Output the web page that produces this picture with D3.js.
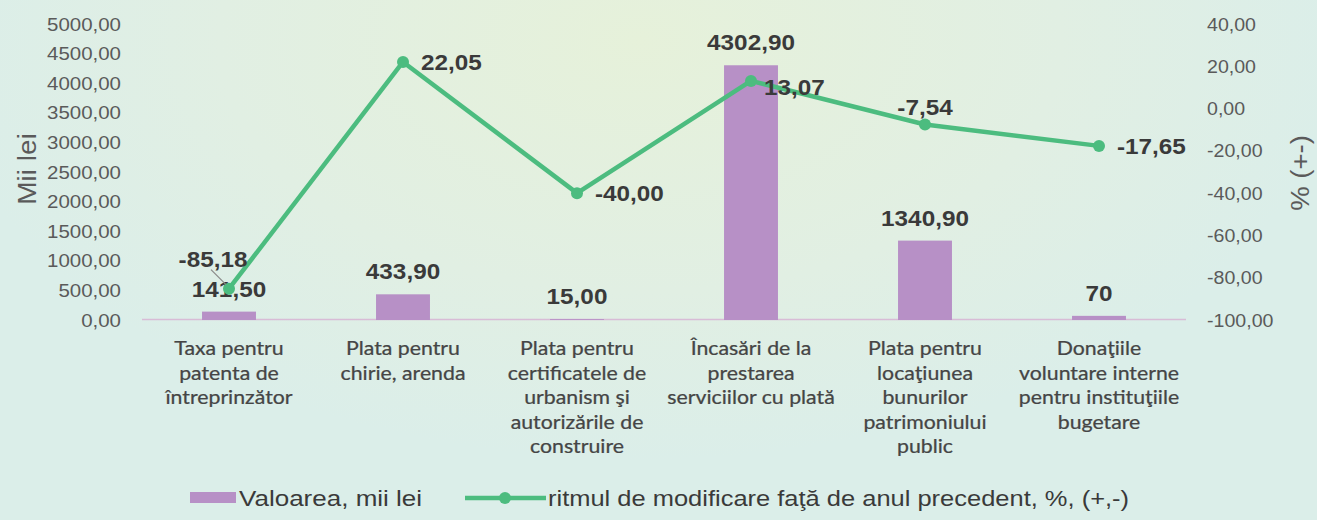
<!DOCTYPE html>
<html><head><meta charset="utf-8">
<script src="https://cdn.jsdelivr.net/npm/d3@7"></script>
<style>html,body{margin:0;padding:0;overflow:hidden;}svg{display:block;}</style>
</head><body>
<svg id="chart" width="1317" height="520"></svg>
<script>
const categories = [
  ["Taxa pentru","patenta de","întreprinzător"],
  ["Plata pentru","chirie, arenda"],
  ["Plata pentru","certificatele de","urbanism şi","autorizările de","construire"],
  ["Încasări de la","prestarea","serviciilor cu plată"],
  ["Plata pentru","locaţiunea","bunurilor","patrimoniului","public"],
  ["Donaţiile","voluntare interne","pentru instituţiile","bugetare"]
];
const values = [141.50, 433.90, 15.00, 4302.90, 1340.90, 70];
const valueLabels = ["141,50","433,90","15,00","4302,90","1340,90","70"];
const rates = [-85.18, 22.05, -40.00, 13.07, -7.54, -17.65];
const rateLabels = ["-85,18","22,05","-40,00","13,07","-7,54","-17,65"];
const leftTicks = [0,500,1000,1500,2000,2500,3000,3500,4000,4500,5000];
const rightTicks = [-100,-80,-60,-40,-20,0,20,40];
const legendNames = ["Valoarea, mii lei","ritmul de modificare faţă de anul precedent, %, (+,-)"];
const leftTitle = "Mii lei";
const rightTitle = "% (+-)";
// label placement keywords for the line labels
const ratePlacement = ["aboveLeft","right","right","rightBelow","above","right"];

const svg = d3.select("#chart");
const W = 1317, H = 520;
const barColor = "#b790c6", lineColor = "#4cbc7f", textDark = "#3a3a3a", tickColor = "#5a5a5a";
const SX = 1.13;

// background
const defs = svg.append("defs");
const rg = defs.append("radialGradient").attr("id","bg").attr("gradientUnits","userSpaceOnUse")
  .attr("cx",640).attr("cy",40).attr("r",700).attr("gradientTransform","translate(640,40) scale(1,0.6) translate(-640,-40)");
rg.append("stop").attr("offset","0").attr("stop-color","#e6f1da");
rg.append("stop").attr("offset","0.6").attr("stop-color","#e1efe3");
rg.append("stop").attr("offset","1").attr("stop-color","#dbeee9");
svg.append("rect").attr("width",W).attr("height",H).attr("fill","url(#bg)");

const x = d3.scaleBand().domain(d3.range(categories.length)).range([142,1186]).padding(0);
const yL = d3.scaleLinear().domain([0,5000]).range([320,24]);
const yR = d3.scaleLinear().domain([-100,40]).range([320,24]);
const cx = i => x(i) + x.bandwidth()/2;
const barW = x.bandwidth()*0.31;

function txt(parent, px, py, s, o){
  const g = parent.append("g").attr("transform",`translate(${px},${py}) scale(${o.sx||SX},1)`);
  const t = g.append("text").text(s)
    .attr("font-family", o.family || "'Liberation Sans', Arial, sans-serif")
    .attr("font-size", o.size).attr("fill", o.fill || textDark)
    .attr("font-weight", o.weight || "normal")
    .attr("text-anchor", o.anchor || "start");
  if (o.stroke) t.attr("stroke", o.fill || textDark).attr("stroke-width", o.stroke);
  if (o.rotate) g.attr("transform",`translate(${px},${py}) rotate(${o.rotate}) scale(${o.sx||SX},1)`);
  return t;
}

// left axis ticks
const axL = svg.append("g").attr("transform","translate(121,0)")
  .call(d3.axisLeft(yL).tickValues(leftTicks).tickSize(0).tickPadding(0).tickFormat(()=>""));
axL.select(".domain").remove();
axL.selectAll(".tick").each(function(d){
  txt(d3.select(this), 0, 6, d3.format(".2f")(d).replace(".",","), {size:17.5, fill:tickColor, anchor:"end", sx:1.17});
});
const axR = svg.append("g").attr("transform","translate(1207,0)")
  .call(d3.axisRight(yR).tickValues(rightTicks).tickSize(0).tickPadding(0).tickFormat(()=>""));
axR.select(".domain").remove();
axR.selectAll(".tick").each(function(d){
  txt(d3.select(this), 0, 6, d3.format(".2f")(d).replace(".",",").replace("−","-"), {size:17.5, fill:tickColor, anchor:"start", sx:1.12});
});

// axis titles
txt(svg, 36, 169, leftTitle, {size:26, fill:tickColor, anchor:"middle", rotate:-90, sx:1.08});
txt(svg, 1309, 173, rightTitle, {size:25, fill:tickColor, anchor:"middle", rotate:-90, sx:1.1});

// baseline
svg.append("line").attr("x1",142).attr("x2",1186).attr("y1",yL(0)-0.5).attr("y2",yL(0)-0.5)
  .attr("stroke","#d8bcd6").attr("stroke-width",1.5);

// bars
svg.selectAll(".bar").data(values).enter().append("rect")
  .attr("x",(d,i)=>cx(i)-barW/2).attr("width",barW)
  .attr("y",d=>yL(d)).attr("height",d=>yL(0)-yL(d)).attr("fill",barColor);

// bar labels
values.forEach((v,i)=>{
  txt(svg, cx(i), yL(v)-15, valueLabels[i], {size:21.5, weight:"bold", anchor:"middle"});
});

// line
const line = d3.line().x((d,i)=>cx(i)).y(d=>yR(d));
svg.append("path").datum(rates).attr("d",line).attr("fill","none")
  .attr("stroke",lineColor).attr("stroke-width",4.5).attr("stroke-linejoin","round");
svg.selectAll(".pt").data(rates).enter().append("circle")
  .attr("cx",(d,i)=>cx(i)).attr("cy",d=>yR(d)).attr("r",6).attr("fill",lineColor);

// leader line for first label
svg.append("line").attr("x1",cx(0)-18).attr("y1",yR(rates[0])-19).attr("x2",cx(0)-3).attr("y2",yR(rates[0])-4)
  .attr("stroke","#8a8a8a").attr("stroke-width",1.2);

rates.forEach((r,i)=>{
  const px = cx(i), py = yR(r), p = ratePlacement[i];
  let tx, ty, anchor;
  if (p==="right"){ tx=px+18; ty=py+8; anchor="start"; }
  else if (p==="rightBelow"){ tx=px+13; ty=py+14; anchor="start"; }
  else if (p==="above"){ tx=px; ty=py-10; anchor="middle"; }
  else { tx=px-16; ty=py-22; anchor="middle"; }
  txt(svg, tx, ty, rateLabels[i], {size:21.5, weight:"bold", anchor});
});

// category labels
categories.forEach((lines,i)=>{
  lines.forEach((l,j)=>{
    txt(svg, cx(i), 355 + j*24.5, l, {size:19, family:"Lato, 'Open Sans', sans-serif", fill:"#454545", anchor:"middle", sx:1.12, stroke:0.25});
  });
});

// legend
const lg = svg.append("g");
lg.append("rect").attr("x",190).attr("y",492).attr("width",46).attr("height",11).attr("fill",barColor);
txt(lg, 239, 506, legendNames[0], {size:21.5, fill:textDark, sx:1.21});
lg.append("line").attr("x1",465).attr("x2",546).attr("y1",498).attr("y2",498).attr("stroke",lineColor).attr("stroke-width",4.5);
lg.append("circle").attr("cx",505).attr("cy",498).attr("r",6).attr("fill",lineColor);
txt(lg, 548, 506, legendNames[1], {size:21.5, fill:textDark, sx:1.185});
</script>
</body></html>
